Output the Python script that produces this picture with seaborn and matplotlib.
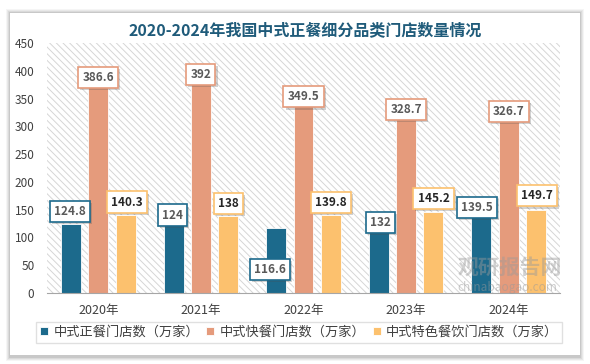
import pandas as pd
import matplotlib.pyplot as plt
import matplotlib.patheffects as pe
from matplotlib.patches import Rectangle
import seaborn as sns

years = ['2020年', '2021年', '2022年', '2023年', '2024年']
series = ['中式正餐门店数（万家）', '中式快餐门店数（万家）', '中式特色餐饮门店数（万家）']
zhengcan = [124.8, 124, 116.6, 132, 139.5]
kuaican = [386.6, 392, 349.5, 328.7, 326.7]
tese = [140.3, 138, 139.8, 145.2, 149.7]

colors = ['#1c6a8c', '#e59b7c', '#fcc16e']
text_colors = ['#595959', '#595959', '#262626']
# label offsets (pixels) from the top of each bar, per series
label_dy = [[12, 9, -41, -3, 8], [1, 1, 2, 1, 0], [13, 13, 13, 14, 14]]
label_dx = [[-1, -1, -6, 2, -4], [0, 0, 0, 0, 0], [1, 0, 0, 0, 1]]

df = pd.DataFrame({
    'year': years * 3,
    'series': [s for s in series for _ in years],
    'value': zhengcan + kuaican + tese,
})

sns.set_style('white')
plt.rcParams['font.family'] = ['Noto Sans CJK SC', 'DejaVu Sans']
plt.rcParams['hatch.color'] = '#d6d6d6'
plt.rcParams['hatch.linewidth'] = 0.7

fig = plt.figure(figsize=(5.9, 3.64), dpi=100)
fig.patch.set_facecolor('white')

# card with soft shadow
for i, a in enumerate([0.04, 0.05, 0.06, 0.08]):
    g = 4 - i
    fig.add_artist(Rectangle(((10 - g) / 590, (364 - 357 - g) / 364), (570 + 2 * g) / 590,
                             (344 + 2 * g) / 364, transform=fig.transFigure,
                             fc='black', ec='none', alpha=a, zorder=0))
fig.add_artist(Rectangle((10 / 590, 9 / 364), 570 / 590, 342 / 364,
                         transform=fig.transFigure, fc='white', ec='none', zorder=0.5))

ax = fig.add_axes([47 / 590, 71 / 364, 513 / 590, 250 / 364])
ax.set_zorder(1)
ax.patch.set_facecolor('white')
ax.patch.set_hatch('\\\\\\\\\\')
ax.patch.set_edgecolor('#d6d6d6')
ax.patch.set_linewidth(0)

sns.barplot(data=df, x='year', y='value', hue='series', palette=colors, saturation=1,
            width=0.8, gap=0.27, edgecolor='white', linewidth=0.6, ax=ax)

for k, cont in enumerate(ax.containers):
    for j, bar in enumerate(cont):
        h = bar.get_height()
        xc = bar.get_x() + bar.get_width() / 2
        t = ax.annotate(f'{h:g}', (xc, h), xytext=(label_dx[k][j], label_dy[k][j]),
                        textcoords='offset pixels', ha='center', va='center',
                        fontsize=8.5, fontweight='bold', color=text_colors[k],
                        bbox=dict(boxstyle='square,pad=0.35', fc='white',
                                  ec=colors[k], lw=1.2), zorder=5)
        t.get_bbox_patch().set_path_effects([
            pe.SimplePatchShadow(offset=(1.5, -1.5), alpha=0.25), pe.Normal()])

ax.set_ylim(0, 450)
ax.set_yticks(range(0, 451, 50))
ax.set_xlim(-0.5, 4.5)
ax.set_xlabel('')
ax.set_ylabel('')
ax.tick_params(axis='y', labelsize=8.5, colors='#404040', length=0, pad=9)
ax.tick_params(axis='x', labelsize=9, colors='#404040', length=0, pad=8)
for s in ['top', 'right', 'left']:
    ax.spines[s].set_visible(False)
ax.spines['bottom'].set_color('#a6a6a6')
ax.spines['bottom'].set_linewidth(0.8)

ax.legend(loc='upper left', bbox_to_anchor=(-0.021, -0.116, 1.025, 0), mode='expand',
          ncol=3, frameon=True, fontsize=9.5, handlelength=0.6, handleheight=0.6,
          handletextpad=0.4, borderpad=0.3, borderaxespad=0, edgecolor='#d9d9d9',
          fancybox=False, labelcolor='#404040')

fig.text(305 / 590, 1 - 30 / 364, '2020-2024年我国中式正餐细分品类门店数量情况',
         ha='center', va='center', fontsize=11.5, fontweight='bold', color='#1f5b7a')

# watermark
fig.text(510 / 590, 1 - 267 / 364, '观研报告网', ha='center', va='center', fontsize=15,
         fontweight='bold', color='#9a9a9a', alpha=0.45, zorder=6)
fig.text(507 / 590, 1 - 287 / 364, 'chinabaogao.com', ha='center', va='center', fontsize=8.5,
         color='#9a9a9a', alpha=0.5, zorder=6)

fig.savefig('out.png', dpi=100)
